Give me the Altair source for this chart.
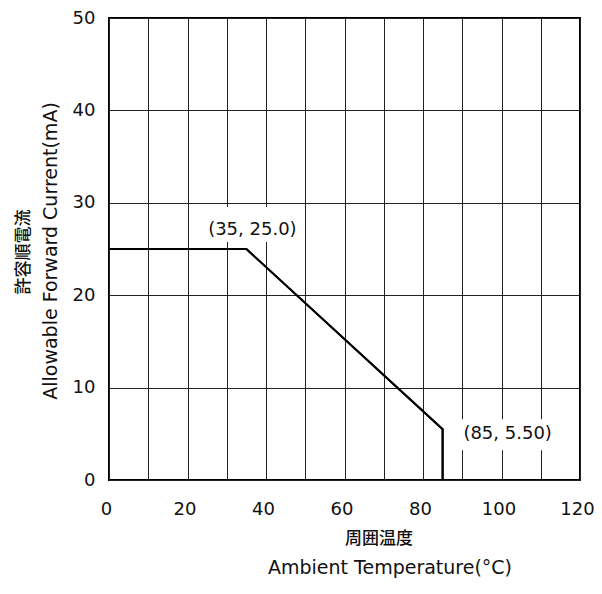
import altair as alt
import pandas as pd

# Derating curve
temp = [0, 35, 85, 85]
current = [25.0, 25.0, 5.5, 0.0]

# Annotations
ann_t = [35, 85]
ann_i = [25.0, 5.5]
ann_text = ["(35, 25.0)", "(85, 5.50)"]

x_ticks = list(range(0, 121, 10))
y_ticks = list(range(0, 51, 10))

x_title_jp = "周囲温度"
x_title_en = "Ambient Temperature(°C)"
y_title_jp = "許容順電流"
y_title_en = "Allowable Forward Current(mA)"

FONT = "DejaVu Sans"
JP_FONT = "Noto Sans CJK JP"

curve = pd.DataFrame({"t": temp, "i": current, "o": list(range(len(temp)))})
ann = pd.DataFrame({"t": ann_t, "i": ann_i, "label": ann_text})

xs = alt.Scale(domain=[0, 120], nice=False, zero=False)
ys = alt.Scale(domain=[0, 50], nice=False, zero=False)

xaxis = alt.Axis(values=x_ticks, grid=True, ticks=False, domain=False,
                 labelExpr="datum.value % 20 == 0 ? datum.label : ''",
                 labelFont=FONT, labelFontSize=18, labelColor="#111",
                 labelPadding=20, labelOffset=-3, gridColor="#222", gridWidth=1,
                 gridOpacity=1, title=None, labelFlush=False, labelOverlap=False)
yaxis = alt.Axis(values=y_ticks, grid=True, ticks=False, domain=False,
                 labelFont=FONT, labelFontSize=18, labelColor="#111",
                 labelPadding=14, gridColor="#222", gridWidth=1, gridOpacity=1,
                 title=None, labelOverlap=False)

X = lambda: alt.X("t:Q", scale=xs, axis=xaxis)
Y = lambda: alt.Y("i:Q", scale=ys, axis=yaxis)

line = alt.Chart(curve).mark_line(color="black", strokeWidth=2).encode(
    x=X(), y=Y(), order="o:Q",
)

# per-annotation (box offsets, text offsets)
styles = [
    dict(x0=-45, x1=56, y0=-42, y1=-7, dx=6, dy=-19),
    dict(x0=15, x1=115, y0=-10, y1=21, dx=65, dy=5),
]

boxes, texts = [], []
for k, st in enumerate(styles):
    d = ann.iloc[[k]]
    boxes.append(alt.Chart(d).mark_rect(color="white", xOffset=st["x0"], x2Offset=st["x1"],
                                        yOffset=st["y0"], y2Offset=st["y1"]).encode(
        x=X(), x2="t", y=Y(), y2="i"))
    texts.append(alt.Chart(d).mark_text(font=FONT, fontSize=18, color="#111",
                                        dx=st["dx"], dy=st["dy"], align="center",
                                        baseline="middle").encode(
        x=X(), y=Y(), text="label:N"))

one = pd.DataFrame({"a": [0]})
titles = [
    alt.Chart(one).mark_text(text=x_title_jp, font=JP_FONT, fontSize=17, fontWeight=500,
                             color="#111", baseline="middle", align="center").encode(
        x=alt.value(270), y=alt.value(521)),
    alt.Chart(one).mark_text(text=x_title_en, font=FONT, fontSize=19,
                             color="#111", baseline="middle", align="center").encode(
        x=alt.value(281), y=alt.value(550)),
    alt.Chart(one).mark_text(text=y_title_jp, font=JP_FONT, fontSize=17, fontWeight=500,
                             color="#111", baseline="middle", align="center", angle=270).encode(
        x=alt.value(-85), y=alt.value(234)),
    alt.Chart(one).mark_text(text=y_title_en, font=FONT, fontSize=19,
                             color="#111", baseline="middle", align="center", angle=270).encode(
        x=alt.value(-58), y=alt.value(233)),
]

chart = alt.layer(
    line, *boxes, line, *texts, *titles
).properties(
    width=471, height=462,
    autosize=alt.AutoSizeParams(type="none"),
    padding={"left": 101, "top": 10, "right": 14, "bottom": 98},
    background="white",
).configure_view(stroke="black", strokeWidth=2)

chart.save("out.html", embed_options={"renderer": "svg", "actions": False})
